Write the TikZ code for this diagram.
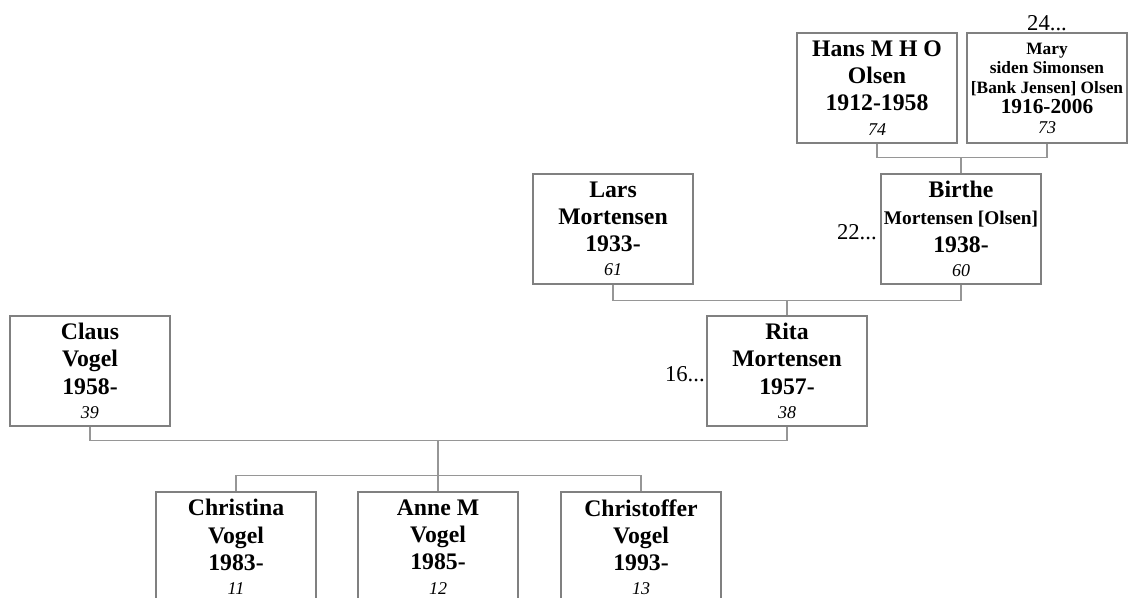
\documentclass[tikz,border=0pt]{standalone}
\usepackage{fontspec}
\setmainfont{Liberation Serif}
\usetikzlibrary{calc}

\definecolor{boxgray}{RGB}{128,128,128}
\definecolor{linegray}{RGB}{150,150,150}
\newcommand{\age}[1]{{\mdseries\itshape\fontsize{13.5}{16}\selectfont #1}}
\newcommand{\midname}[1]{{\fontsize{14.5}{17}\selectfont #1}}
\newcommand{\bigdate}[1]{{\fontsize{16}{18}\selectfont #1}}

\begin{document}
\begin{tikzpicture}[x=0.75pt, y=-0.75pt,
	person/.style={draw=boxgray, line width=1.1pt, minimum width=120pt, minimum height=82.5pt,
		align=center, inner sep=0pt, font=\bfseries\fontsize{17.8}{20.3}\selectfont},
	smallperson/.style={person, font=\bfseries\fontsize{13}{14.8}\selectfont},
	link/.style={draw=linegray, line width=1.1pt},
	more/.style={font=\fontsize{17}{20}\selectfont, inner sep=1pt}]
	
	\useasboundingbox (0,0) rectangle (1135,598);
	\clip (0,0) rectangle (1135,598);
	
	%========================
	% grandparents
	%========================
	\node[person] (hans) at (877,88) {Hans M H O\\Olsen\\1912-1958\\[-2pt]\age{74}};
	\node[smallperson] (mary) at (1047,88) {Mary\\siden Simonsen\\{[}Bank Jensen{]} Olsen\\\bigdate{1916-2006}\\\age{73}};
	\node[more, anchor=south] (mary-up) at (mary.north) {24...};
	
	%========================
	% parents of Rita
	%========================
	\node[person] (lars) at (613,229) {Lars\\Mortensen\\1933-\\[-2pt]\age{61}};
	\node[person] (birthe) at (961,229) {Birthe\\\midname{Mortensen [Olsen]}\\1938-\\[-2pt]\age{60}};
	\node[more, anchor=east] (birthe-up) at ($(birthe.west)+(-2,3)$) {22...};
	
	%========================
	% parents
	%========================
	\node[person] (claus) at (90,371) {Claus\\Vogel\\1958-\\[-2pt]\age{39}};
	\node[person] (rita) at (787,371) {Rita\\Mortensen\\1957-\\[-2pt]\age{38}};
	\node[more, anchor=east] (rita-up) at ($(rita.west)+(0,3)$) {16...};
	
	%========================
	% children
	%========================
	\node[person] (christina) at (236,547) {Christina\\Vogel\\1983-\\[-2pt]\age{11}};
	\node[person] (anne) at (438,547) {Anne M\\Vogel\\1985-\\[-2pt]\age{12}};
	\node[person] (christoffer) at (641,547) {Christoffer\\Vogel\\1993-\\[-2pt]\age{13}};
	
	% couple lines
	\draw[link] (hans.south) -- ++(0,14) coordinate (hm) -| (mary.south);
	\draw[link] (birthe.north) -- (birthe.north |- hm);
	\draw[link] (lars.south) -- ++(0,16) coordinate (lb) -| (birthe.south);
	\draw[link] (rita.north) -- (rita.north |- lb);
	\draw[link] (claus.south) -- ++(0,14) coordinate (cr) -| (rita.south);
	\draw[link] (anne.north) -- (anne.north |- cr);
	\draw[link] (christina.north) -- ++(0,-16) -| (christoffer.north);
	
\end{tikzpicture}
\end{document}
